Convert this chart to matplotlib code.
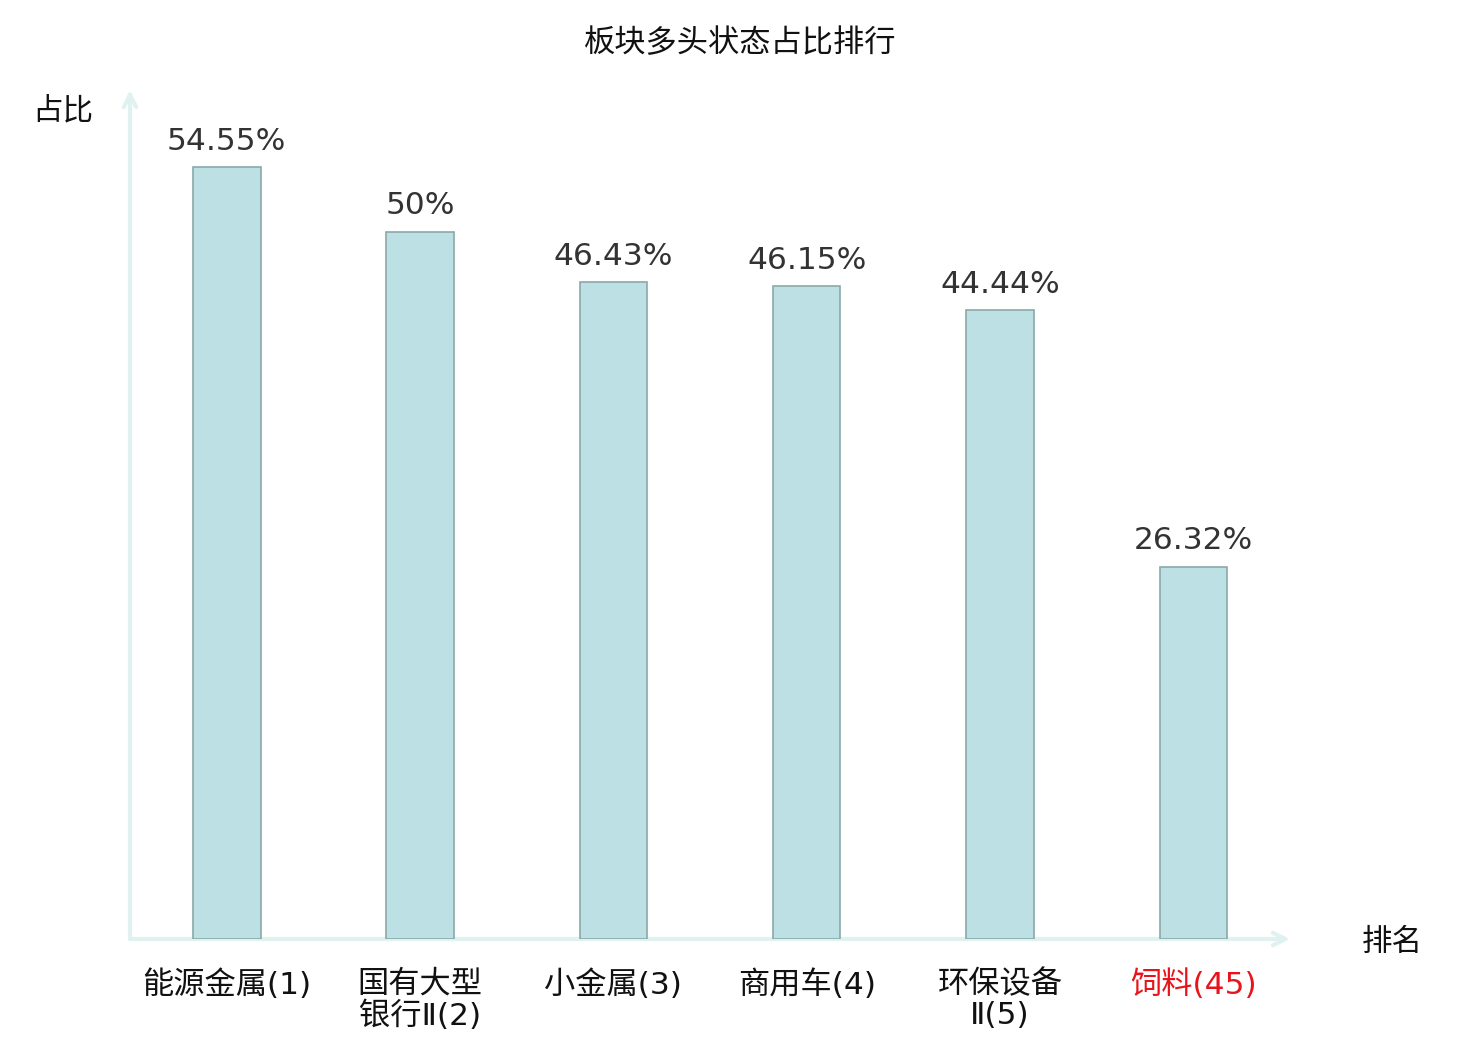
import matplotlib
matplotlib.use('Agg')
import matplotlib.pyplot as plt

plt.rcParams['font.family'] = ['Noto Sans CJK SC', 'DejaVu Sans']

# data
categories = ['能源金属(1)', '国有大型\n银行Ⅱ(2)', '小金属(3)', '商用车(4)', '环保设备\nⅡ(5)', '饲料(45)']
ratios = [54.55, 50, 46.43, 46.15, 44.44, 26.32]
value_labels = ['54.55%', '50%', '46.43%', '46.15%', '44.44%', '26.32%']
label_colors = ['#111111', '#111111', '#111111', '#111111', '#111111', '#e8141b']

axis_color = '#dff2f0'
bar_face = '#bce0e3'
bar_edge = '#8aa8a8'

fig = plt.figure(figsize=(14.8, 10.4), dpi=100)
ax = fig.add_axes([130 / 1480, 1 - 939 / 1040, 1160 / 1480, 849 / 1040])

x = list(range(len(categories)))
bars = ax.bar(x, ratios, width=0.35, color=bar_face, edgecolor=bar_edge, linewidth=1.2, zorder=3)

for b, txt in zip(bars, value_labels):
    ax.annotate(txt, (b.get_x() + b.get_width() / 2, b.get_height()), xytext=(0, 8),
                textcoords='offset points', ha='center', va='bottom',
                fontsize=22.5, color='#333333', family='DejaVu Sans')

ax.set_xlim(-0.5, len(categories) - 0.5)
ax.set_ylim(0, 60)

for s in ax.spines.values():
    s.set_visible(False)
ax.set_yticks([])
ax.set_xticks(x)
ax.set_xticklabels(categories, fontsize=22.5, linespacing=1.08,
                   family=['DejaVu Sans', 'Noto Sans CJK SC'])
ax.tick_params(axis='x', length=0, pad=22)
for lbl, c in zip(ax.get_xticklabels(), label_colors):
    lbl.set_color(c)

# axis arrows
ax.annotate('', xy=(1.0, 0), xytext=(0, 0), xycoords='axes fraction',
            arrowprops=dict(arrowstyle='->,head_length=0.9,head_width=0.45', color=axis_color, lw=3,
                            shrinkA=0, shrinkB=0), zorder=1)
ax.annotate('', xy=(0, 1.0), xytext=(0, 0), xycoords='axes fraction',
            arrowprops=dict(arrowstyle='->,head_length=0.9,head_width=0.45', color=axis_color, lw=3,
                            shrinkA=0, shrinkB=0), zorder=1)

fig.text(63 / 1480, 1 - 111 / 1040, '占比', ha='center', va='center', fontsize=22, color='#111111')
fig.text(1392 / 1480, 1 - 942 / 1040, '排名', ha='center', va='center', fontsize=22, color='#111111')
fig.text(740 / 1480, 1 - 43 / 1040, '板块多头状态占比排行', ha='center', va='center', fontsize=22.5, color='#111111')

fig.savefig('out.png', dpi=100)
